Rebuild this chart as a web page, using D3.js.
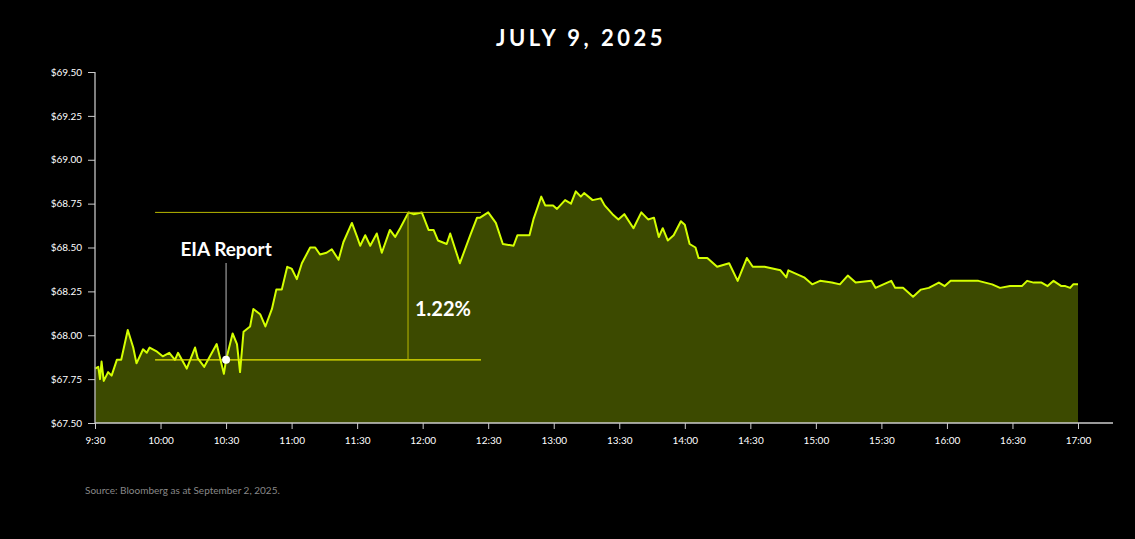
<!DOCTYPE html>
<html>
<head>
<meta charset="utf-8">
<script src="https://cdn.jsdelivr.net/npm/d3@7"></script>
<style>
  body { margin: 0; background: #000; }
  svg { display: block; font-family: Lato, "Open Sans", sans-serif; }
</style>
</head>
<body>
<svg id="chart" width="1135" height="539"></svg>
<script>
// minutes after 9:30
const minutes = [0, 1.5, 2.3, 3, 4, 6, 7.6, 10, 12, 15, 17.5, 19, 22, 23.7, 25, 28, 31, 34, 36.6, 38,
  42, 45.8, 47, 50, 55.7, 59, 60, 63, 65, 66.4, 68, 71, 72.5, 75.6, 78, 81, 83, 85.5, 88, 90,
  92.4, 94.7, 98.5, 100.8, 103, 106, 108.4, 111.5, 113.7, 117.6, 120, 121.4, 123.7, 126, 129, 131.3,
  135, 137.4, 139.7, 143.5, 145.8, 149.6, 152.7, 155, 157, 161, 162.6, 167, 171.8, 174.9,
  176.3, 180, 183.5, 186.7, 191.6, 193.4, 198.9, 200.7, 204.3, 206.1, 209.7, 211.5, 215.2, 217.9,
  220.1, 222.4, 223.9, 227.8, 231.5, 233.3, 236.9, 239.6, 242.3, 246.5, 250.1, 253.2, 255.9, 258.1,
  259.9, 262.2, 264.9, 268.2, 270, 272.2, 274.9, 276.3, 280.3, 284.8, 290.3, 294.2, 298.4, 301.1,
  306.5, 313.8, 316.5, 317.4, 321, 324.6, 328.3, 331.9, 337.3, 341, 344.6, 348.2, 355.4, 357.3,
  364.5, 366.3, 369.9, 374.5, 378.1, 381.7, 386.3, 389, 391.7, 399, 404.4, 410.7, 414.3, 418.9,
  424.3, 426.7, 429.7, 433.3, 436.1, 438.8, 442.4, 444.2, 446.4, 447.8, 450];
const prices = [67.81, 67.82, 67.75, 67.85, 67.74, 67.79, 67.77, 67.86, 67.86, 68.03, 67.93, 67.84, 67.92, 67.90, 67.93, 67.91, 67.88, 67.90, 67.86, 67.90,
  67.81, 67.93, 67.87, 67.82, 67.95, 67.78, 67.86, 68.01, 67.95, 67.79, 68.02, 68.05, 68.15, 68.12, 68.05, 68.15, 68.26, 68.26, 68.39, 68.38,
  68.32, 68.41, 68.50, 68.50, 68.46, 68.47, 68.49, 68.43, 68.53, 68.64, 68.56, 68.51, 68.57, 68.51, 68.58, 68.47,
  68.60, 68.56, 68.61, 68.70, 68.69, 68.70, 68.60, 68.60, 68.54, 68.52, 68.58, 68.41, 68.57, 68.67,
  68.67, 68.70, 68.64, 68.52, 68.51, 68.57, 68.57, 68.66, 68.79, 68.74, 68.74, 68.72, 68.77, 68.75,
  68.82, 68.79, 68.81, 68.77, 68.78, 68.74, 68.69, 68.66, 68.69, 68.61, 68.70, 68.66, 68.67, 68.56,
  68.61, 68.54, 68.57, 68.65, 68.63, 68.52, 68.50, 68.44, 68.44, 68.39, 68.41, 68.31, 68.44, 68.39,
  68.39, 68.37, 68.33, 68.37, 68.35, 68.33, 68.29, 68.31, 68.30, 68.29, 68.34, 68.30, 68.31, 68.27,
  68.31, 68.27, 68.27, 68.22, 68.26, 68.27, 68.30, 68.28, 68.31, 68.31, 68.31, 68.29, 68.27, 68.28,
  68.28, 68.31, 68.30, 68.30, 68.28, 68.31, 68.28, 68.28, 68.27, 68.29, 68.29];
const xTickLabels = ["9:30", "10:00", "10:30", "11:00", "11:30", "12:00", "12:30", "13:00", "13:30",
  "14:00", "14:30", "15:00", "15:30", "16:00", "16:30", "17:00"];
const yTicks = [67.5, 67.75, 68, 68.25, 68.5, 68.75, 69, 69.25, 69.5];
const eiaMinute = 60, eiaPrice = 67.86;
const rangeStart = 27.5, rangeEnd = 176.7, rangeLow = 67.86, rangeHigh = 68.70, rangeMinute = 143.3;

const svg = d3.select("#chart");
const x = d3.scaleLinear().domain([0, 450]).range([95, 1078]);
const y = d3.scaleLinear().domain([67.5, 69.5]).range([423, 72]);
const data = minutes.map((m, i) => ({ m, p: prices[i] }));

// title
svg.append("text")
  .attr("x", 581).attr("y", 46)
  .attr("text-anchor", "middle")
  .attr("fill", "#fff")
  .style("font-size", "22px").style("font-weight", "700").style("letter-spacing", "3.5px")
  .text("JULY 9, 2025");

// area + line
svg.append("path").datum(data)
  .attr("fill", "#3c4a00")
  .attr("d", d3.area().x(d => x(d.m)).y0(y(67.5)).y1(d => y(d.p)));
svg.append("path").datum(data)
  .attr("fill", "none").attr("stroke", "#d4ff00").attr("stroke-width", 2)
  .attr("stroke-linejoin", "round")
  .attr("d", d3.line().x(d => x(d.m)).y(d => y(d.p)));

// axes
const yAxis = svg.append("g").attr("transform", "translate(95,0)")
  .call(d3.axisLeft(y).tickValues(yTicks).tickSize(7).tickPadding(6).tickFormat(d => "$" + d.toFixed(2)));
yAxis.select(".domain").attr("stroke", "#aaa").attr("stroke-width", 1.5).attr("d", "M0,423V72");
const xAxis = svg.append("g").attr("transform", "translate(0,423)")
  .call(d3.axisBottom(x).tickValues(d3.range(0, 451, 30)).tickSize(6).tickPadding(8)
    .tickFormat((d, i) => xTickLabels[i]));
xAxis.select(".domain").attr("stroke", "#ccc").attr("stroke-width", 1.5).attr("d", "M95,0H1113");
svg.selectAll(".tick line").attr("stroke", "#ccc");
svg.selectAll(".tick text").attr("fill", "#fff").style("font-size", "10px").style("font-family", "Lato, sans-serif");

// range annotation
svg.append("line")
  .attr("x1", x(rangeStart)).attr("x2", x(rangeEnd)).attr("y1", y(rangeHigh)).attr("y2", y(rangeHigh))
  .attr("stroke", "#b8b800").attr("stroke-width", 1);
svg.append("line")
  .attr("x1", x(rangeStart)).attr("x2", x(rangeEnd)).attr("y1", y(rangeLow)).attr("y2", y(rangeLow))
  .attr("stroke", "#e8ea00").attr("stroke-width", 1.2);
svg.append("line")
  .attr("x1", x(rangeMinute)).attr("x2", x(rangeMinute)).attr("y1", y(rangeHigh)).attr("y2", y(rangeLow))
  .attr("stroke", "#b8b800").attr("stroke-width", 1);
svg.append("text")
  .attr("x", x(rangeMinute) + 7).attr("y", 316)
  .attr("fill", "#fff").style("font-size", "20px").style("font-weight", "700")
  .text("1.22%");

// EIA marker
svg.append("line")
  .attr("x1", x(eiaMinute)).attr("x2", x(eiaMinute)).attr("y1", 263).attr("y2", y(eiaPrice))
  .attr("stroke", "#bbb").attr("stroke-width", 1);
svg.append("circle")
  .attr("cx", x(eiaMinute)).attr("cy", y(eiaPrice)).attr("r", 4).attr("fill", "#fff");
svg.append("text")
  .attr("x", x(eiaMinute)).attr("y", 256).attr("text-anchor", "middle")
  .attr("fill", "#fff").style("font-size", "19px").style("font-weight", "700")
  .text("EIA Report");

// source
svg.append("text")
  .attr("x", 85).attr("y", 494)
  .attr("fill", "#888").style("font-size", "10px")
  .text("Source: Bloomberg as at September 2, 2025.");
</script>
</body>
</html>
